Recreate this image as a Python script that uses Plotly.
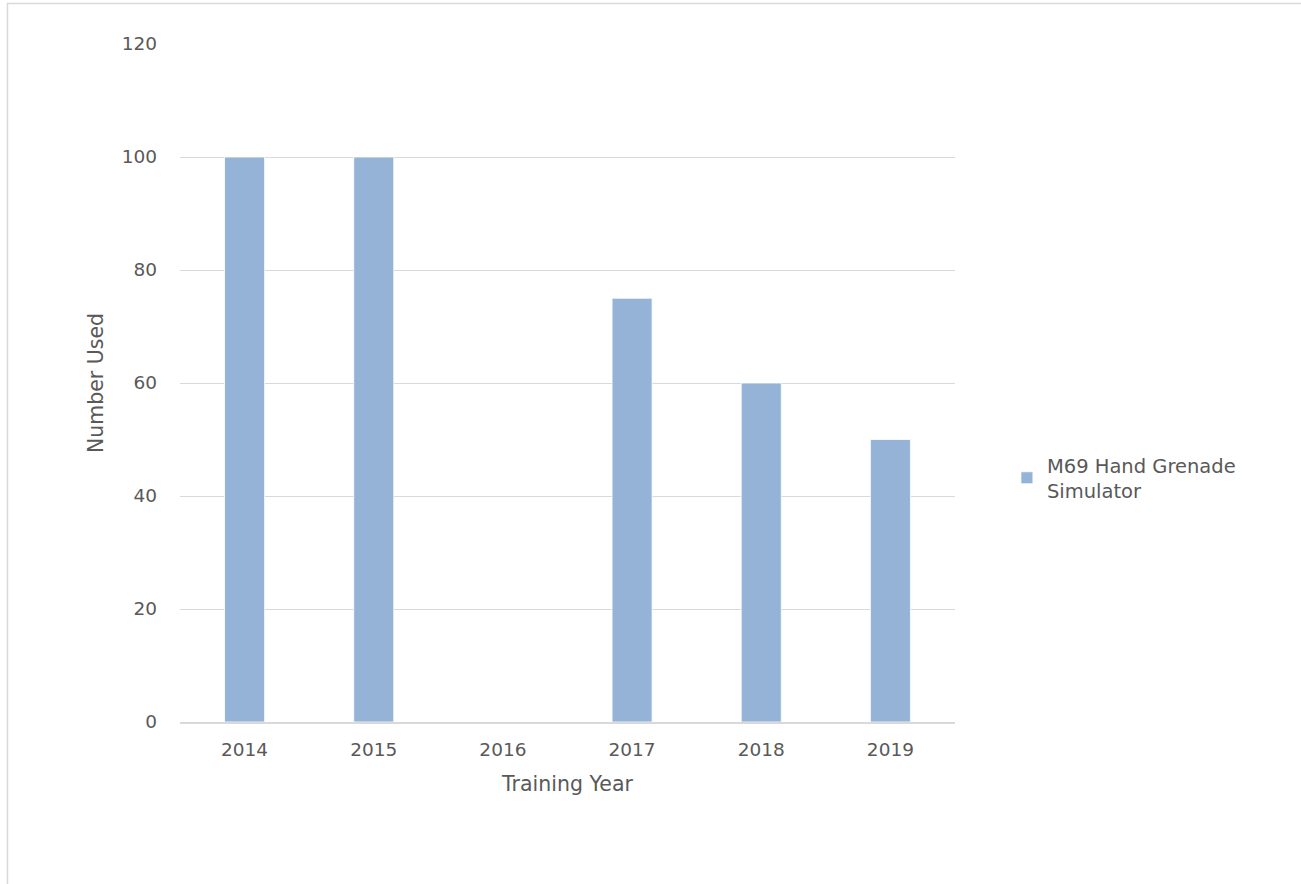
import plotly.graph_objects as go

years = ["2014", "2015", "2016", "2017", "2018", "2019"]
values = [100, 100, None, 75, 60, 50]
series_name = "M69 Hand Grenade<br>Simulator"
y_ticks = [0, 20, 40, 60, 80, 100, 120]

font_family = "'DejaVu Sans', sans-serif"
text_color = "#595959"
grid_color = "#d9d9d9"

fig = go.Figure()
fig.add_trace(go.Bar(
    x=years, y=values, name=series_name,
    marker=dict(color="#95b3d7", line=dict(color="#ffffff", width=0.8)),
    width=0.31, showlegend=True,
))

fig.update_layout(
    width=1301, height=884,
    margin=dict(l=180, r=346, t=44, b=162),
    paper_bgcolor="white", plot_bgcolor="white",
    font=dict(family=font_family, color=text_color, size=18),
    showlegend=True,
    legend=dict(x=1.067, y=0.36, xanchor="left", yanchor="middle",
                font=dict(size=19.5, color=text_color),
                itemwidth=30, tracegroupgap=0, traceorder="normal"),
    xaxis=dict(type="category", showgrid=False, showline=True, linecolor=grid_color,
               linewidth=1.5, ticks="", tickfont=dict(size=18.5, color=text_color),
               ticklabelstandoff=10,
               title=dict(text="Training Year", font=dict(size=20.5, color=text_color), standoff=18)),
    yaxis=dict(range=[0, 120], tickvals=y_ticks, showgrid=True, gridcolor=grid_color,
               gridwidth=1, zeroline=False, showline=False, ticks="",
               tickfont=dict(size=18.5, color=text_color), ticklabelstandoff=22,
               title=dict(text="Number Used", font=dict(size=20.5, color=text_color), standoff=12)),
    shapes=[dict(type="rect", xref="paper", yref="paper",
                 x0=-0.2226, x1=1.6, y0=-0.4, y1=1.0597,
                 line=dict(color="#d9d9d9", width=1.5), fillcolor="rgba(0,0,0,0)", layer="below")],
)

fig.write_html("out.html", config={"displayModeBar": False},
               post_script="document.body.style.margin='0';")
